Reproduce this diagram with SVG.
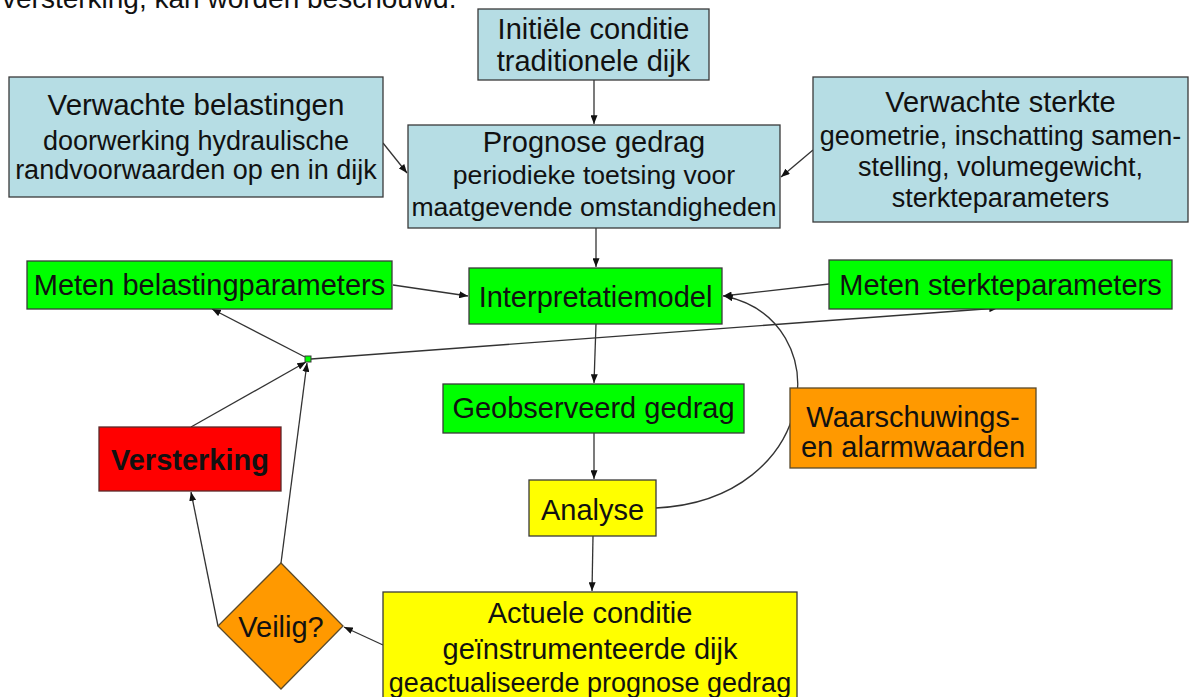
<svg xmlns="http://www.w3.org/2000/svg" width="1189" height="697" viewBox="0 0 1189 697">
<defs>
<style>
text{font-family:"Liberation Sans",Arial,sans-serif;fill:#111;text-anchor:middle}
.t{font-size:29px}
.s{font-size:27px}
.b{fill:#b6dde4;stroke:#3a3a3a;stroke-width:1.3}
.g{fill:#00ff00;stroke:#3a3a3a;stroke-width:1.3}
.y{fill:#ffff00;stroke:#3a3a3a;stroke-width:1.3}
.o{fill:#ff9900;stroke:#5a4a2a;stroke-width:1.3}
.r{fill:#ff0000;stroke:#5a2a2a;stroke-width:1.3}
.c{fill:none;stroke:#333;stroke-width:1.3}
.a{marker-end:url(#ah)}
</style>
<marker id="ah" viewBox="0 0 10 8" refX="10" refY="4" markerWidth="9" markerHeight="7" markerUnits="userSpaceOnUse" orient="auto">
<path d="M0,0 L10,4 L0,8 z" fill="#111"/>
</marker>
</defs>
<rect width="1189" height="697" fill="#fff"/>
<text x="2" y="8" style="font-size:28px;text-anchor:start">versterking, kan worden beschouwd.</text>
<g id="connectors">
<line class="c a" x1="594" y1="80" x2="594" y2="124"/>
<line class="c a" x1="383" y1="143" x2="407" y2="173"/>
<line class="c a" x1="813" y1="150" x2="781" y2="177"/>
<line class="c a" x1="596" y1="228" x2="596" y2="267"/>
<line class="c a" x1="393" y1="285" x2="468" y2="296"/>
<line class="c a" x1="829" y1="284" x2="723" y2="296"/>
<line class="c a" x1="596" y1="324" x2="594" y2="383"/>
<line class="c a" x1="594" y1="433" x2="594" y2="479"/>
<line class="c a" x1="593" y1="536" x2="592" y2="591"/>
<path class="c a" d="M656,508 C820,500 840,320 724,296"/>
<line class="c a" x1="383" y1="645" x2="344" y2="627"/>
<line class="c a" x1="218" y1="626" x2="191" y2="492"/>
<line class="c a" x1="281" y1="563" x2="307" y2="363"/>
<line class="c a" x1="191" y1="427" x2="306" y2="362"/>
<line class="c a" x1="305" y1="357" x2="212" y2="309"/>
<line class="c a" x1="311" y1="359" x2="998" y2="308"/>
</g>
<g id="init">
<rect class="b" x="478" y="9" width="231" height="71"/>
<text class="t" x="593.5" y="39">Initiële conditie</text>
<text class="t" x="593.5" y="71">traditionele dijk</text>
</g>
<g id="prognose">
<rect class="b" x="408" y="125" width="372" height="103"/>
<text class="t" x="594" y="152">Prognose gedrag</text>
<text class="s" x="594" y="184" style="font-size:26.6px">periodieke toetsing voor</text>
<text class="s" x="594" y="216" style="font-size:26.6px">maatgevende omstandigheden</text>
</g>
<g id="belastingen">
<rect class="b" x="9" y="77" width="374" height="120"/>
<text class="t" x="196" y="115" style="font-size:29.5px">Verwachte belastingen</text>
<text class="s" x="196" y="150">doorwerking hydraulische</text>
<text class="s" x="196" y="179">randvoorwaarden op en in dijk</text>
</g>
<g id="sterkte">
<rect class="b" x="813" y="77" width="375" height="145"/>
<text class="t" x="1000.5" y="112">Verwachte sterkte</text>
<text class="s" x="1000.5" y="145">geometrie, inschatting samen-</text>
<text class="s" x="1000.5" y="176">stelling, volumegewicht,</text>
<text class="s" x="1000.5" y="207">sterkteparameters</text>
</g>
<g id="meten-belasting">
<rect class="g" x="27" y="261" width="365" height="48"/>
<text class="t" x="209.5" y="295">Meten belastingparameters</text>
</g>
<g id="interpretatie">
<rect class="g" x="469" y="268" width="253" height="56"/>
<text class="t" x="595.5" y="307">Interpretatiemodel</text>
</g>
<g id="meten-sterkte">
<rect class="g" x="829" y="260" width="343" height="49"/>
<text class="t" x="1000.5" y="295">Meten sterkteparameters</text>
</g>
<g id="knoop">
<rect class="g" x="305" y="356" width="6" height="6" style="stroke-width:1"/>
</g>
<g id="geobserveerd">
<rect class="g" x="443" y="384" width="301" height="49"/>
<text class="t" x="593.5" y="418">Geobserveerd gedrag</text>
</g>
<g id="waarschuwing">
<rect class="o" x="790" y="388" width="246" height="80"/>
<text class="t" x="913" y="427">Waarschuwings-</text>
<text class="t" x="913" y="457">en alarmwaarden</text>
</g>
<g id="analyse">
<rect class="y" x="529" y="480" width="127" height="56"/>
<text class="t" x="592.5" y="520">Analyse</text>
</g>
<g id="versterking">
<rect class="r" x="99" y="427" width="182" height="64"/>
<text class="t" x="190" y="470" style="font-weight:bold">Versterking</text>
</g>
<g id="veilig">
<polygon class="o" points="281,563 343,626 281,689 218,626"/>
<text class="t" x="281" y="637">Veilig?</text>
</g>
<g id="actuele">
<rect class="y" x="383" y="592" width="414" height="115"/>
<text class="t" x="590" y="623">Actuele conditie</text>
<text class="t" x="590" y="659">geïnstrumenteerde dijk</text>
<text class="s" x="590" y="692">geactualiseerde prognose gedrag</text>
</g>
</svg>
